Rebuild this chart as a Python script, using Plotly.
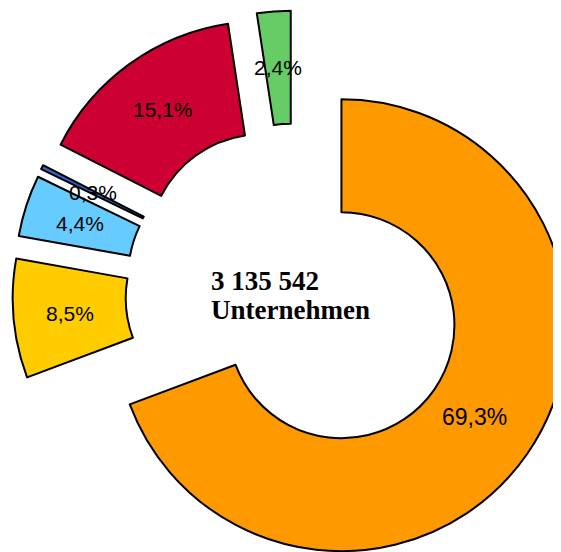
import math
import plotly.graph_objects as go

# ---- data ----
categories = ["Kategorie 1", "Kategorie 2", "Kategorie 3", "Kategorie 4", "Kategorie 5", "Kategorie 6"]
shares = [69.3, 8.5, 4.4, 0.3, 15.1, 2.4]
share_labels = ["69,3%", "8,5%", "4,4%", "0,3%", "15,1%", "2,4%"]
center_lines = ["3 135 542", "Unternehmen"]

# ---- style ----
colors = ["#FF9900", "#FFCC00", "#66CCFF", "#3366CC", "#CC0033", "#66CC66"]
label_sizes = [23, 21, 21, 21, 21, 21]
label_radius = [0.715, 0.75, 0.75, 0.75, 0.75, 0.75]  # fraction of radius from pulled slice centre
PULL = 0.25
HOLE = 0.5
W, H = 575, 570
CX, CY, HALF = 287, 285, 282.5
dom_x = [(CX - HALF) / W, (CX + HALF) / W]
dom_y = [1 - (CY + HALF) / H, 1 - (CY - HALF) / H]

fig = go.Figure(
    go.Pie(
        labels=categories,
        values=shares,
        sort=False,
        direction="clockwise",
        rotation=0,
        hole=HOLE,
        pull=[PULL] * len(shares),
        marker=dict(colors=colors, line=dict(color="#000000", width=2)),
        textinfo="none",
        hoverinfo="skip",
        domain=dict(x=dom_x, y=dom_y),
        showlegend=False,
    )
)

# label positions derived from the data (mid-ring of each pulled slice)
cx = W * (dom_x[0] + dom_x[1]) / 2
cy = H * (1 - (dom_y[0] + dom_y[1]) / 2)
r = min(W * (dom_x[1] - dom_x[0]), H * (dom_y[1] - dom_y[0])) / (2 * (1 + PULL))
total = sum(shares)
cum = 0.0
annotations = []
for v, txt, fs, lr in zip(shares, share_labels, label_sizes, label_radius):
    th = math.radians((cum + v / 2) / total * 360)
    cum += v
    R = r * (PULL + lr)
    px = cx + R * math.sin(th)
    py = cy - R * math.cos(th)
    annotations.append(dict(
        x=px / W, y=1 - py / H, xref="paper", yref="paper",
        text=txt, showarrow=False, xanchor="center", yanchor="middle",
        font=dict(family="Liberation Sans, Arial, sans-serif", size=fs, color="#000000"),
    ))

for i, line in enumerate(center_lines):
    annotations.append(dict(
        x=(cx - 86) / W, y=1 - (cy - 12 + 29 * i) / H, xref="paper", yref="paper",
        text="<b>" + line + "</b>", showarrow=False, xanchor="left", yanchor="middle",
        font=dict(family="Liberation Serif, Times New Roman, serif", size=27, color="#000000"),
    ))

fig.update_layout(
    width=W, height=H,
    margin=dict(l=0, r=0, t=0, b=0),
    paper_bgcolor="#FFFFFF",
    plot_bgcolor="#FFFFFF",
    annotations=annotations,
)

fig.write_html("out.html")
